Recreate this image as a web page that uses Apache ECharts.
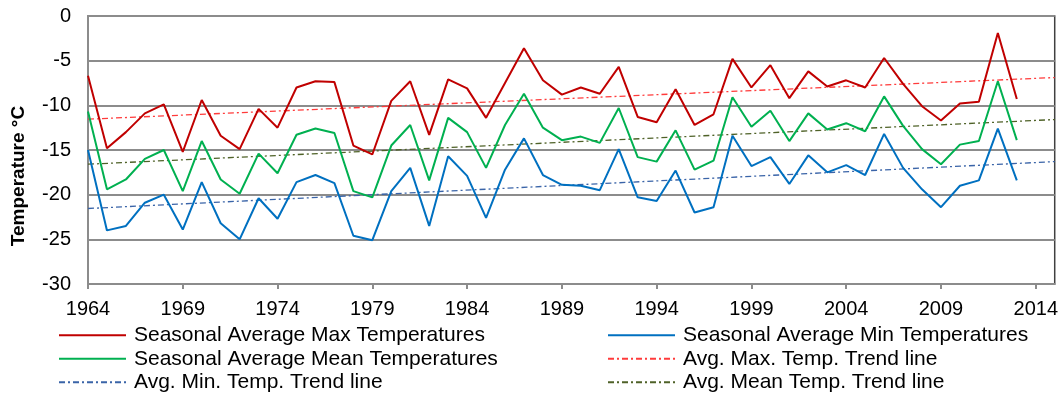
<!DOCTYPE html>
<html>
<head>
<meta charset="utf-8">
<script src="https://cdn.jsdelivr.net/npm/echarts@6/dist/echarts.min.js"></script>
<style>
  html, body { margin: 0; padding: 0; background: #fff; }
  #chart { width: 1061px; height: 396px; }
</style>
</head>
<body>
<div id="chart"></div>
<script>
// Years on the category axis (the axis runs one step past the last record)
const years = ['1964','1965','1966','1967','1968','1969','1970','1971','1972','1973',
  '1974','1975','1976','1977','1978','1979','1980','1981','1982','1983',
  '1984','1985','1986','1987','1988','1989','1990','1991','1992','1993',
  '1994','1995','1996','1997','1998','1999','2000','2001','2002','2003',
  '2004','2005','2006','2007','2008','2009','2010','2011','2012','2013',
  '2014','2015'];

// Seasonal averages, 1964-2013 (°C)
const maxTemps = [-6.7, -14.8, -13.0, -10.9, -9.9, -15.2, -9.4, -13.4, -14.9, -10.4,
  -12.5, -8.0, -7.3, -7.4, -14.5, -15.5, -9.5, -7.3, -13.3, -7.1,
  -8.1, -11.4, -7.5, -3.6, -7.2, -8.8, -8.0, -8.7, -5.7, -11.3,
  -11.9, -8.2, -12.2, -11.0, -4.8, -8.0, -5.5, -9.2, -6.2, -7.9,
  -7.2, -8.0, -4.7, -7.6, -10.1, -11.7, -9.8, -9.6, -1.9, -9.3];

const meanTemps = [-10.7, -19.4, -18.3, -16.0, -15.0, -19.6, -14.0, -18.3, -19.9, -15.4,
  -17.6, -13.3, -12.6, -13.1, -19.6, -20.3, -14.5, -12.2, -18.4, -11.4,
  -13.0, -17.0, -12.2, -8.7, -12.5, -13.9, -13.5, -14.2, -10.3, -15.8,
  -16.3, -12.8, -17.2, -16.2, -9.1, -12.4, -10.6, -14.0, -10.9, -12.7,
  -12.0, -12.9, -9.0, -12.3, -14.9, -16.6, -14.4, -14.0, -7.3, -13.9];

const minTemps = [-15.0, -24.0, -23.5, -20.9, -20.0, -23.9, -18.6, -23.2, -25.0, -20.4,
  -22.7, -18.6, -17.8, -18.7, -24.6, -25.1, -19.6, -17.0, -23.5, -15.7,
  -17.9, -22.6, -17.2, -13.7, -17.8, -18.9, -19.0, -19.5, -14.9, -20.3,
  -20.7, -17.3, -22.0, -21.4, -13.4, -16.8, -15.8, -18.8, -15.6, -17.5,
  -16.7, -17.8, -13.2, -17.0, -19.4, -21.4, -19.0, -18.4, -12.6, -18.4];

// Linear trend lines, end points at 1964 and 2015
const maxTrend  = [['1964', -11.55], ['2015', -6.89]];
const meanTrend = [['1964', -16.59], ['2015', -11.59]];
const minTrend  = [['1964', -21.55], ['2015', -16.30]];

// Y axis ticks
const yMin = -30, yMax = 0, yStep = 5;

const FONT = '"Liberation Sans", Arial, sans-serif';

const NAMES = {
  max: 'Seasonal Average Max Temperatures',
  min: 'Seasonal Average Min Temperatures',
  mean: 'Seasonal Average Mean Temperatures',
  maxT: 'Avg. Max. Temp. Trend line',
  minT: 'Avg. Min. Temp. Trend line',
  meanT: 'Avg. Mean Temp. Trend line'
};

const dashDot = [6, 3, 2, 3];

function solid(name, data, color) {
  return {
    name, type: 'line', data, symbol: 'none', z: 3,
    lineStyle: { color, width: 2 }, itemStyle: { color },
    emphasis: { disabled: true }
  };
}
function trend(name, data, color) {
  return {
    name, type: 'line', data, symbol: 'none', z: 2,
    lineStyle: { color, width: 1.3, type: dashDot }, itemStyle: { color },
    emphasis: { disabled: true }
  };
}

// Two legend columns, plain line keys (no point symbol)
const legendCommon = {
  orient: 'vertical',
  padding: 0,
  itemWidth: 67,
  itemHeight: 14,
  itemGap: 0,
  selectedMode: false,
  itemStyle: { opacity: 0, borderWidth: 0 },
  textStyle: { fontFamily: FONT, fontSize: 21, color: '#000', lineHeight: 23.5, padding: [0, 0, 0, 3] }
};

const option = {
  animation: false,
  backgroundColor: '#fff',
  grid: {
    left: 88, right: 5, top: 16, bottom: 112,
    show: true, borderColor: '#404040', borderWidth: 1.5
  },
  xAxis: {
    type: 'category',
    data: years,
    boundaryGap: false,
    axisLine: { onZero: false, lineStyle: { color: '#8c8c8c', width: 2 } },
    axisTick: { show: true, interval: 4, length: 5, lineStyle: { color: '#8c8c8c', width: 2 } },
    axisLabel: { interval: 4, margin: 15, fontFamily: FONT, fontSize: 20, color: '#000' },
    splitLine: { show: false }
  },
  yAxis: {
    type: 'value',
    min: yMin, max: yMax, interval: yStep,
    axisLine: { show: true, lineStyle: { color: '#8c8c8c', width: 2 } },
    axisTick: { show: false },
    axisLabel: { margin: 17, fontFamily: FONT, fontSize: 20, color: '#000' },
    splitLine: { lineStyle: { color: '#8c8c8c', width: 2 } }
  },
  legend: [
    Object.assign({}, legendCommon, { left: 58, top: 323.5, data: [NAMES.max, NAMES.mean, NAMES.minT] }),
    Object.assign({}, legendCommon, { left: 607, top: 323.5, data: [NAMES.min, NAMES.maxT, NAMES.meanT] })
  ],
  graphic: [{
    type: 'text',
    x: 19, y: 176,
    rotation: Math.PI / 2,
    style: {
      text: 'Temperature °C',
      font: 'bold 19px ' + FONT,
      fill: '#000',
      align: 'center',
      verticalAlign: 'middle'
    }
  }],
  series: [
    trend(NAMES.maxT, maxTrend, '#ff3b3b'),
    trend(NAMES.meanT, meanTrend, '#4f6228'),
    trend(NAMES.minT, minTrend, '#3a64a8'),
    solid(NAMES.max, maxTemps, '#c00000'),
    solid(NAMES.min, minTemps, '#0070c0'),
    solid(NAMES.mean, meanTemps, '#00b050')
  ]
};

echarts.init(document.getElementById('chart'), null, { renderer: 'canvas' }).setOption(option);
</script>
</body>
</html>
